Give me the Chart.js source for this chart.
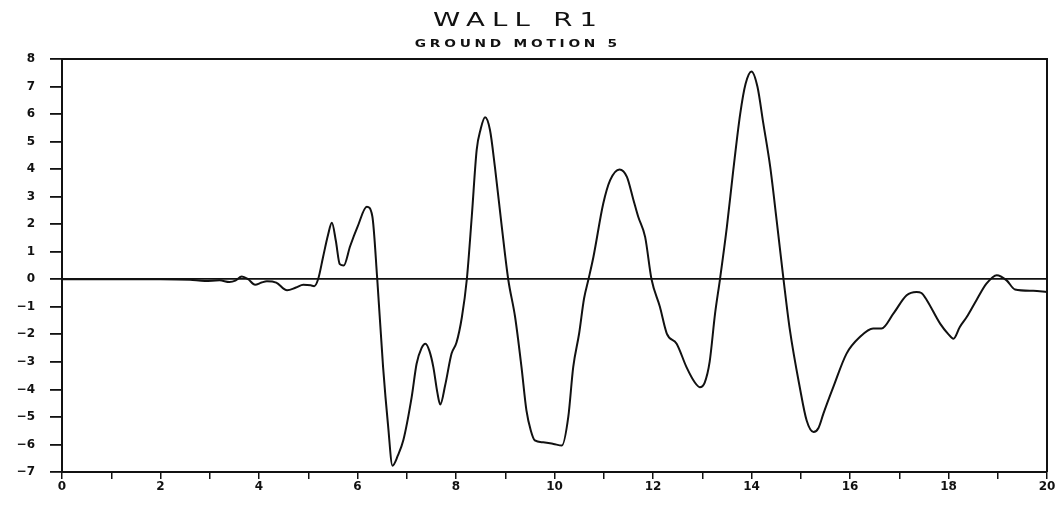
<!DOCTYPE html>
<html>
<head>
<meta charset="utf-8">
<script src="https://cdn.jsdelivr.net/npm/chart.js@4.4.1/dist/chart.umd.min.js"></script>
<style>
    html, body { margin: 0; padding: 0; background: #fff; }
    #wrap { width: 1062px; height: 507px; }
</style>
</head>
<body>
<div id="wrap"><canvas id="wallChart" width="1062" height="507"></canvas></div>
<script>
// Title text
const titleText = 'WALL R1';
const subtitleText = 'GROUND MOTION 5';

// Time (x) and response (y)
const times = [
    0, 1, 2, 2.6, 2.9, 3.2, 3.4, 3.52, 3.65, 3.78, 3.92, 4.05, 4.16, 4.35, 4.57, 4.75, 4.9, 5.05, 5.12, 5.2,
    5.3, 5.4, 5.48, 5.56, 5.64, 5.72, 5.85, 6.0, 6.19, 6.3, 6.4, 6.52, 6.62, 6.71, 6.82, 6.93, 7.1, 7.2, 7.3, 7.38,
    7.46, 7.54, 7.62, 7.68, 7.78, 7.91, 8.01, 8.12, 8.22, 8.32, 8.42, 8.5, 8.59, 8.69, 8.79, 8.93, 9.06, 9.2, 9.33, 9.43,
    9.52, 9.6, 9.77, 9.98, 10.15, 10.28, 10.38, 10.5, 10.6, 10.69, 10.79, 10.99, 11.13, 11.32, 11.47, 11.6, 11.7, 11.84, 11.97, 12.14,
    12.28, 12.48, 12.68, 12.85, 12.95, 13.05, 13.15, 13.26, 13.36, 13.5, 13.63, 13.77, 13.88, 14.0, 14.12, 14.24, 14.38, 14.51, 14.65, 14.78,
    14.98, 15.12, 15.26, 15.36, 15.46, 15.66, 15.93, 16.2, 16.47, 16.64, 16.88, 17.15, 17.35, 17.45, 17.56, 17.83, 18.0, 18.1, 18.23, 18.37,
    18.57, 18.77, 18.98, 19.18, 19.35, 19.72, 20.0
];
const response = [
    0, 0, 0, -0.02, -0.06, -0.04, -0.1, -0.05, 0.1, 0.0, -0.2, -0.12, -0.07, -0.12, -0.4, -0.3, -0.2, -0.22, -0.25, 0.0,
    0.8, 1.6, 2.05, 1.4, 0.55, 0.5, 1.2, 1.9, 2.63, 2.3, 0.03, -3.2, -5.3, -6.77, -6.4, -5.85, -4.28, -3.07, -2.5, -2.34,
    -2.6, -3.19, -4.1, -4.55, -3.85, -2.7, -2.3, -1.37, 0, 2.27, 4.7, 5.45, 5.88, 5.42, 4.08, 1.9, 0, -1.37, -3.19, -4.76,
    -5.5, -5.85, -5.92, -5.98, -6.04, -5.0, -3.19, -1.97, -0.7, 0, 0.81, 2.75, 3.6, 3.99, 3.72, 2.9, 2.27, 1.54, 0, -1.0,
    -1.97, -2.34, -3.19, -3.75, -3.92, -3.75, -3.0, -1.25, 0, 1.9, 3.96, 6.0, 7.1, 7.55, 7.0, 5.66, 4.08, 2.15, 0, -1.85,
    -3.92, -5.13, -5.55, -5.4, -4.88, -3.92, -2.7, -2.1, -1.79, -1.79, -1.25, -0.58, -0.46, -0.5, -0.76, -1.61, -2.0, -2.16, -1.73, -1.37,
    -0.75, -0.16, 0.15, -0.04, -0.37, -0.42, -0.46
];

// Axis ranges
const xMin = 0, xMax = 20, xStep = 1;
const yMin = -7, yMax = 8, yStep = 1;

const ink = '#111';
const tickFont = { family: 'DejaVu Sans', size: 12, weight: 'bold' };

// stretched text, like the old plotter lettering
function wideText(ctx, text, cx, cy, font, spacing, stretch) {
    ctx.save();
    ctx.font = font;
    ctx.letterSpacing = spacing + 'px';
    ctx.textAlign = 'center';
    ctx.textBaseline = 'middle';
    ctx.translate(cx, cy);
    ctx.scale(stretch, 1);
    ctx.fillText(text, spacing / 2, 0);
    ctx.restore();
}

// Draws the frame (top and right edges) and the two title lines
const framePlugin = {
    id: 'frame',
    afterDatasetsDraw(chart) {
        const { ctx, chartArea } = chart;
        ctx.save();
        ctx.strokeStyle = ink;
        ctx.lineWidth = 2;
        ctx.beginPath();
        ctx.moveTo(chartArea.left, chartArea.top);
        ctx.lineTo(chartArea.right, chartArea.top);
        ctx.lineTo(chartArea.right, chartArea.bottom);
        ctx.stroke();
        ctx.restore();
    },
    afterDraw(chart) {
        const ctx = chart.ctx;
        ctx.fillStyle = ink;
        wideText(ctx, titleText, 515, 21, '19px "DejaVu Sans"', 5, 1.45);
        wideText(ctx, subtitleText, 516, 44, 'bold 11px "DejaVu Sans"', 3, 1.25);
    }
};

document.addEventListener('DOMContentLoaded', () => {
    const ctx = document.getElementById('wallChart').getContext('2d');
    const points = times.map((t, i) => ({ x: t, y: response[i] }));

    new Chart(ctx, {
        type: 'line',
        data: {
            datasets: [{
                data: points,
                borderColor: ink,
                borderWidth: 2,
                pointRadius: 0,
                fill: false,
                cubicInterpolationMode: 'monotone'
            }]
        },
        options: {
            responsive: false,
            animation: false,
            layout: { padding: { top: 59, right: 15, left: 0, bottom: 0 } },
            plugins: {
                legend: { display: false },
                tooltip: { enabled: false },
                title: { display: false }
            },
            scales: {
                x: {
                    type: 'linear',
                    min: xMin,
                    max: xMax,
                    afterFit: (scale) => { scale.height = 35; },
                    border: { display: true, color: ink, width: 2 },
                    grid: {
                        drawOnChartArea: false,
                        drawTicks: true,
                        tickLength: 7,
                        tickColor: ink,
                        lineWidth: 1.5
                    },
                    ticks: {
                        stepSize: xStep,
                        autoSkip: false,
                        maxRotation: 0,
                        padding: 1,
                        color: ink,
                        font: tickFont,
                        callback: (v) => (v % 2 === 0 ? String(v) : '')
                    }
                },
                y: {
                    type: 'linear',
                    min: yMin,
                    max: yMax,
                    afterFit: (scale) => { scale.width = 62; },
                    border: { display: true, color: ink, width: 2 },
                    grid: {
                        drawOnChartArea: true,
                        color: (c) => (c.tick && c.tick.value === 0 ? ink : 'rgba(0,0,0,0)'),
                        lineWidth: 1.8,
                        tickColor: ink,
                        tickLength: 12
                    },
                    ticks: {
                        stepSize: yStep,
                        autoSkip: false,
                        padding: 15,
                        color: ink,
                        font: tickFont,
                        callback: (v) => (v < 0 ? '\u2212' + Math.abs(v) : String(v))
                    }
                }
            }
        },
        plugins: [framePlugin]
    });
});
</script>
</body>
</html>
